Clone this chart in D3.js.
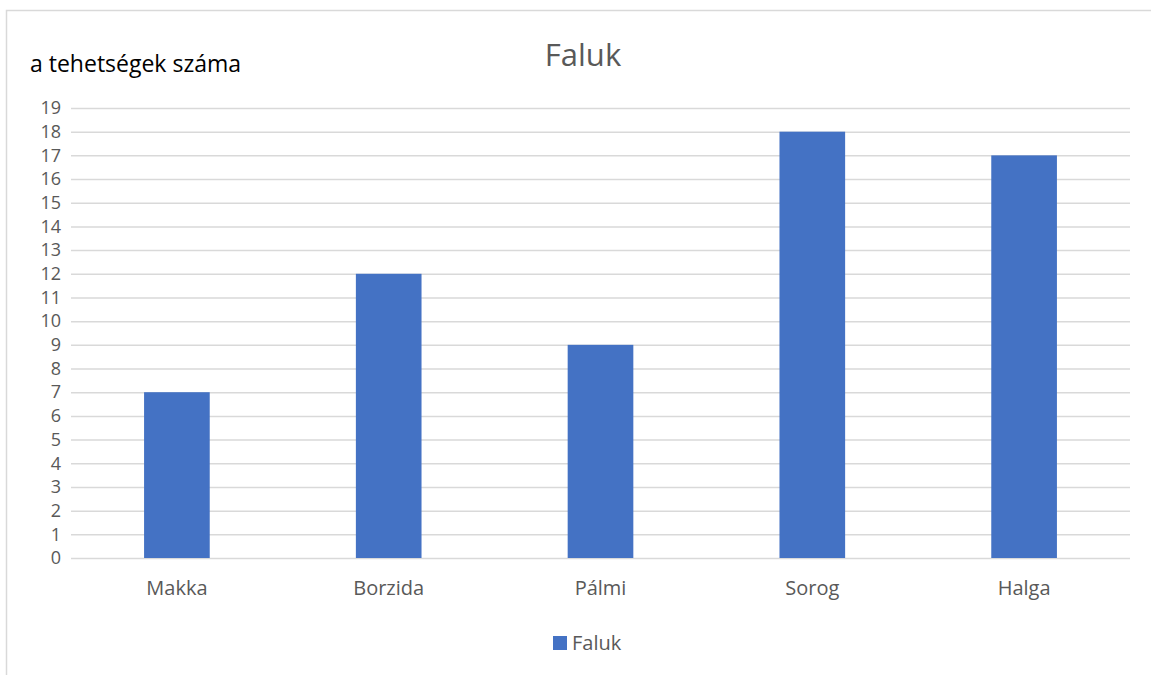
<!DOCTYPE html>
<html>
<head>
<meta charset="utf-8">
<script src="https://cdn.jsdelivr.net/npm/d3@7"></script>
<style>
  body { margin: 0; background: #fff; }
  text { font-family: "Open Sans", "Noto Sans", sans-serif; }
  .grid line { stroke: #d9d9d9; stroke-width: 1.5; }
  .grid path { display: none; }
  .yaxis path, .yaxis line, .xaxis path, .xaxis line { display: none; }
</style>
</head>
<body>
<div id="plot"></div>
<script>
// data
var categories = ["Makka", "Borzida", "Pálmi", "Sorog", "Halga"];
var values = [7, 12, 9, 18, 17];
var yTicks = d3.range(0, 20);
var seriesName = "Faluk";

function plot_bars(){
    var width = 1151,
        height = 675,
        margin = {left:71, top:108, right:21, bottom:117};

    var svg = d3.select("#plot")
        .append("svg")
        .attr("width", width)
        .attr("height", height);

    // outer frame
    svg.append("rect")
        .attr("x", 6.5).attr("y", 10.5)
        .attr("width", width).attr("height", height)
        .attr("fill", "none")
        .attr("stroke", "#d9d9d9")
        .attr("stroke-width", 1.5);

    var xScale = d3.scaleBand()
        .domain(categories)
        .range([margin.left, width - margin.right])
        .paddingInner(0.69)
        .paddingOuter(0.345);

    var yScale = d3.scaleLinear()
        .domain([0, 19])
        .range([height - margin.bottom, margin.top]);

    // grid
    svg.append("g")
        .attr("class", "grid")
        .attr("transform", `translate(${margin.left},0)`)
        .call(d3.axisLeft(yScale)
            .tickValues(yTicks)
            .tickSizeInner(-(width - margin.left - margin.right))
            .tickSizeOuter(0)
            .tickFormat(""));

    // bars
    svg.selectAll(".bar")
        .data(values)
        .enter().append("rect")
        .attr("class", "bar")
        .attr("x", function(d, i){ return xScale(categories[i]); })
        .attr("y", function(d){ return yScale(d); })
        .attr("width", xScale.bandwidth())
        .attr("height", function(d){ return yScale(0) - yScale(d); })
        .attr("fill", "#4472c4");

    // y axis labels
    var yAxis = svg.append("g")
        .attr("class", "yaxis")
        .attr("transform", `translate(${margin.left},0)`)
        .call(d3.axisLeft(yScale).tickValues(yTicks).tickSize(0).tickPadding(10));
    yAxis.selectAll("text")
        .attr("fill", "#595959")
        .style("font-size", "18px");

    // x axis labels
    var xAxis = svg.append("g")
        .attr("class", "xaxis")
        .attr("transform", `translate(0,${height - margin.bottom})`)
        .call(d3.axisBottom(xScale).tickSize(0).tickPadding(23));
    xAxis.selectAll("text")
        .attr("fill", "#595959")
        .style("font-size", "20px");

    // title
    svg.append("text")
        .attr("x", 583).attr("y", 66)
        .attr("text-anchor", "middle")
        .attr("fill", "#595959")
        .style("font-size", "31px")
        .text(seriesName);

    // y axis title
    svg.append("text")
        .attr("x", 30).attr("y", 72)
        .attr("fill", "#000")
        .style("font-size", "23px")
        .text("a tehetségek száma");

    // legend
    var legend = svg.append("g").attr("transform", "translate(553,636)");
    legend.append("rect")
        .attr("width", 14).attr("height", 14)
        .attr("fill", "#4472c4");
    legend.append("text")
        .attr("x", 19).attr("y", 14)
        .attr("fill", "#595959")
        .style("font-size", "20px")
        .text(seriesName);
}

plot_bars();
</script>
</body>
</html>
